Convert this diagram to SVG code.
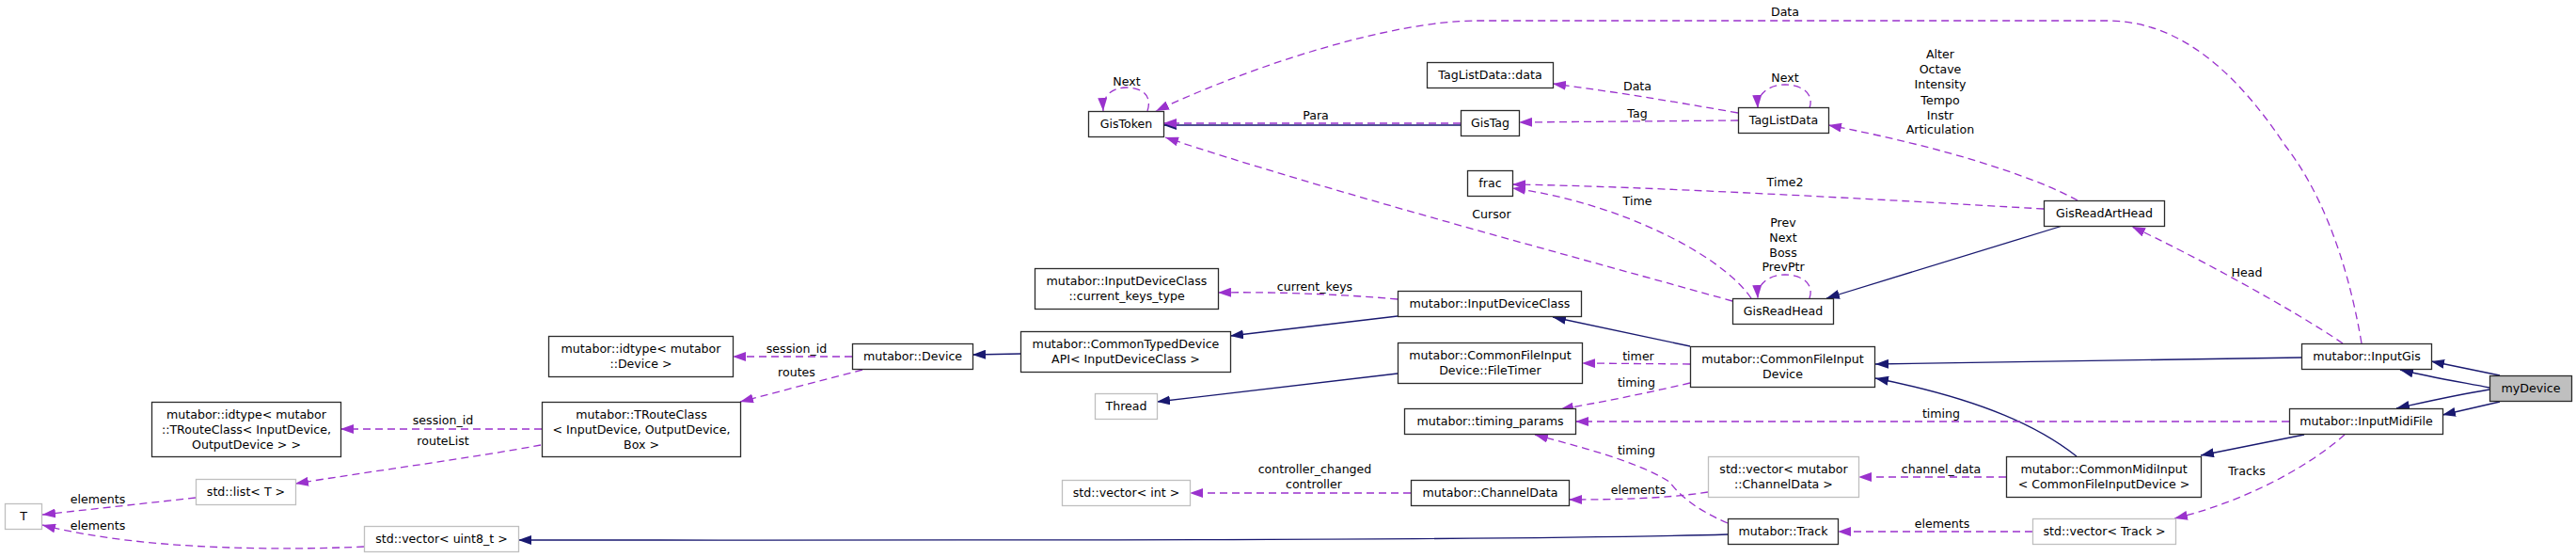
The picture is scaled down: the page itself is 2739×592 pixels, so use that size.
<svg xmlns="http://www.w3.org/2000/svg" width="2739" height="592" viewBox="0 0 2739 592">
<style>
.t{font-family:"DejaVu Sans",sans-serif;font-size:12.6px;text-anchor:middle;fill:#000}
.n{fill:#fff;stroke:#2b2b2b;stroke-width:1.3}
.g{fill:#fff;stroke:#bfbfbf;stroke-width:1.3}
.sel{fill:#bfbfbf;stroke:#2b2b2b;stroke-width:1.3}
.u{fill:none;stroke:#9a32cd;stroke-width:1.3;stroke-dasharray:8,5;marker-end:url(#ap)}
.i{fill:none;stroke:#191970;stroke-width:1.3;marker-end:url(#an)}
</style>
<defs>
<marker id="ap" markerWidth="14" markerHeight="10" refX="14" refY="5" orient="auto" markerUnits="userSpaceOnUse"><path d="M0,0 L14,5 L0,10 z" fill="#9a32cd"/></marker>
<marker id="an" markerWidth="14" markerHeight="10" refX="14" refY="5" orient="auto" markerUnits="userSpaceOnUse"><path d="M0,0 L14,5 L0,10 z" fill="#191970"/></marker>
</defs>
<rect width="2739" height="592" fill="#fff"/>
<g id="edges">
<!-- inheritance -->
<path class="i" d="M1553,133 L1237,133"/>
<path class="i" d="M2193,240 L1942,317"/>
<path class="i" d="M1797,368 L1651,337"/>
<path class="i" d="M1486,336 L1308,357"/>
<path class="i" d="M1085,376 L1034,377"/>
<path class="i" d="M1486,397 L1230,427"/>
<path class="i" d="M1837,568 C1600,575 1000,574 551,574"/>
<path class="i" d="M2447,380 C2300,382 2150,385 1994,387"/>
<path class="i" d="M2208,485 C2170,455 2110,425 1994,402"/>
<path class="i" d="M2450,462 L2340,484"/>
<path class="i" d="M2658,399 L2585,384"/>
<path class="i" d="M2647,412 C2610,405 2580,400 2552,393"/>
<path class="i" d="M2647,414 C2610,420 2580,427 2548,434"/>
<path class="i" d="M2658,427 L2597,441"/>
<!-- usage -->
<path class="u" d="M2511,365 C2495,270 2465,200 2430,155 C2380,80 2320,22 2240,22 L1570,22 C1480,22 1330,70 1229,118"/>
<text class="t" x="1898" y="17">Data</text>
<path class="u" d="M1220,118 C1226,100 1212,93 1198,93 C1184,93 1172,100 1173,118"/>
<text class="t" x="1198" y="91">Next</text>
<path class="u" d="M1553,131 L1237,131"/>
<text class="t" x="1399" y="127">Para</text>
<path class="u" d="M1842,320 C1700,280 1400,200 1239,146"/>
<text class="t" x="1586" y="232">Cursor</text>
<path class="u" d="M1848,120 C1780,108 1720,98 1651,89"/>
<text class="t" x="1741" y="96">Data</text>
<path class="u" d="M1848,128 L1615,130"/>
<text class="t" x="1741" y="125">Tag</text>
<path class="u" d="M1924,115 C1930,97 1912,90 1898,90 C1884,90 1868,97 1869,115"/>
<text class="t" x="1898" y="87">Next</text>
<path class="u" d="M2209,213 C2160,186 2060,155 1944,133"/>
<text class="t" x="2063" y="62">Alter</text>
<text class="t" x="2063" y="78">Octave</text>
<text class="t" x="2063" y="94">Intensity</text>
<text class="t" x="2063" y="111">Tempo</text>
<text class="t" x="2063" y="127">Instr</text>
<text class="t" x="2063" y="142">Articulation</text>
<path class="u" d="M2173,222 C2000,212 1750,198 1608,196"/>
<text class="t" x="1898" y="198">Time2</text>
<path class="u" d="M1862,317 C1830,270 1720,215 1608,200"/>
<text class="t" x="1741" y="218">Time</text>
<path class="u" d="M1924,317 C1930,299 1912,292 1898,292 C1884,292 1868,299 1869,317"/>
<text class="t" x="1896" y="241">Prev</text>
<text class="t" x="1896" y="257">Next</text>
<text class="t" x="1896" y="273">Boss</text>
<text class="t" x="1896" y="288">PrevPtr</text>
<path class="u" d="M2491,365 C2440,330 2330,270 2267,241"/>
<text class="t" x="2389" y="294">Head</text>
<path class="u" d="M1486,318 C1420,312 1340,310 1295,311"/>
<text class="t" x="1398" y="309">current_keys</text>
<path class="u" d="M1797,387 L1682,386"/>
<text class="t" x="1742" y="383">timer</text>
<path class="u" d="M1797,407 C1750,418 1700,428 1659,435"/>
<text class="t" x="1740" y="411">timing</text>
<path class="u" d="M2434,448 L1675,448"/>
<text class="t" x="2064" y="444">timing</text>
<path class="u" d="M1837,556 C1800,540 1785,525 1775,512 C1740,490 1680,475 1632,462"/>
<text class="t" x="1740" y="483">timing</text>
<path class="u" d="M1816,523 C1770,530 1720,531 1668,531"/>
<text class="t" x="1742" y="525">elements</text>
<path class="u" d="M1500,524 L1265,524"/>
<text class="t" x="1398" y="503">controller_changed</text>
<text class="t" x="1397" y="519">controller</text>
<path class="u" d="M2133,507 L1976,507"/>
<text class="t" x="2064" y="503">channel_data</text>
<path class="u" d="M2161,565 L1954,565"/>
<text class="t" x="2065" y="561">elements</text>
<path class="u" d="M2493,462 C2450,500 2380,535 2312,551"/>
<text class="t" x="2389" y="505">Tracks</text>
<path class="u" d="M576,456 L362,456"/>
<text class="t" x="471" y="451">session_id</text>
<path class="u" d="M575,473 C500,487 400,500 314,514"/>
<text class="t" x="471" y="473">routeList</text>
<path class="u" d="M208,529 L45,547"/>
<text class="t" x="104" y="535">elements</text>
<path class="u" d="M387,581 C300,585 150,585 45,558"/>
<text class="t" x="104" y="563">elements</text>
<path class="u" d="M906,379 L779,379"/>
<text class="t" x="847" y="375">session_id</text>
<path class="u" d="M917,393 L787,427"/>
<text class="t" x="847" y="400">routes</text>
</g>
<g id="T"><rect class="g" x="5.5" y="535.5" width="39" height="27"/><text class="t" x="25" y="553.4">T</text></g>
<g id="stdlist"><rect class="g" x="208.5" y="509.5" width="106" height="27"/><text class="t" x="261.5" y="527.4">std::list&lt; T &gt;</text></g>
<g id="vec_uint8"><rect class="g" x="387.5" y="559.5" width="164" height="27"/><text class="t" x="469.5" y="577.4">std::vector&lt; uint8_t &gt;</text></g>
<g id="idtype_troute"><rect class="n" x="161.5" y="427.5" width="201" height="58"/><text class="t" x="262" y="444.9">mutabor::idtype&lt; mutabor</text><text class="t" x="262" y="460.9">::TRouteClass&lt; InputDevice,</text><text class="t" x="262" y="476.9">OutputDevice &gt; &gt;</text></g>
<g id="troute"><rect class="n" x="576.5" y="427.5" width="211" height="58"/><text class="t" x="682" y="444.9">mutabor::TRouteClass</text><text class="t" x="682" y="460.9">&lt; InputDevice, OutputDevice,</text><text class="t" x="682" y="476.9">Box &gt;</text></g>
<g id="idtype_device"><rect class="n" x="583.5" y="357.5" width="196" height="43"/><text class="t" x="681.5" y="375.4">mutabor::idtype&lt; mutabor</text><text class="t" x="681.5" y="391.4">::Device &gt;</text></g>
<g id="device"><rect class="n" x="906.5" y="365.5" width="128" height="27"/><text class="t" x="970.5" y="383.4">mutabor::Device</text></g>
<g id="ctdapi"><rect class="n" x="1085.5" y="352.5" width="223" height="43"/><text class="t" x="1197" y="370.4">mutabor::CommonTypedDevice</text><text class="t" x="1197" y="386.4">API&lt; InputDeviceClass &gt;</text></g>
<g id="ckt"><rect class="n" x="1100.5" y="285.5" width="195" height="43"/><text class="t" x="1198" y="303.4">mutabor::InputDeviceClass</text><text class="t" x="1198" y="319.4">::current_keys_type</text></g>
<g id="thread"><rect class="g" x="1164.5" y="418.5" width="66" height="27"/><text class="t" x="1197.5" y="436.4">Thread</text></g>
<g id="vec_int"><rect class="g" x="1129.5" y="510.5" width="136" height="27"/><text class="t" x="1197.5" y="528.4">std::vector&lt; int &gt;</text></g>
<g id="gistoken"><rect class="n" x="1157.5" y="118.5" width="80" height="27"/><text class="t" x="1197.5" y="136.4">GisToken</text></g>
<g id="tld_data"><rect class="n" x="1517.5" y="66.5" width="134" height="27"/><text class="t" x="1584.5" y="84.4">TagListData::data</text></g>
<g id="gistag"><rect class="n" x="1553.5" y="117.5" width="62" height="27"/><text class="t" x="1584.5" y="135.4">GisTag</text></g>
<g id="frac"><rect class="n" x="1560.5" y="181.5" width="48" height="27"/><text class="t" x="1584.5" y="199.4">frac</text></g>
<g id="idc"><rect class="n" x="1486.5" y="309.5" width="195" height="27"/><text class="t" x="1584" y="327.4">mutabor::InputDeviceClass</text></g>
<g id="filetimer"><rect class="n" x="1486.5" y="364.5" width="196" height="43"/><text class="t" x="1584.5" y="382.4">mutabor::CommonFileInput</text><text class="t" x="1584.5" y="398.4">Device::FileTimer</text></g>
<g id="timing"><rect class="n" x="1493.5" y="434.5" width="182" height="27"/><text class="t" x="1584.5" y="452.4">mutabor::timing_params</text></g>
<g id="channeldata"><rect class="n" x="1500.5" y="510.5" width="168" height="27"/><text class="t" x="1584.5" y="528.4">mutabor::ChannelData</text></g>
<g id="taglistdata"><rect class="n" x="1848.5" y="114.5" width="96" height="27"/><text class="t" x="1896.5" y="132.4">TagListData</text></g>
<g id="gisreadhead"><rect class="n" x="1842.5" y="317.5" width="107" height="27"/><text class="t" x="1896" y="335.4">GisReadHead</text></g>
<g id="cfid"><rect class="n" x="1797.5" y="368.5" width="196" height="43"/><text class="t" x="1895.5" y="386.4">mutabor::CommonFileInput</text><text class="t" x="1895.5" y="402.4">Device</text></g>
<g id="vec_chdata"><rect class="g" x="1816.5" y="485.5" width="160" height="43"/><text class="t" x="1896.5" y="503.4">std::vector&lt; mutabor</text><text class="t" x="1896.5" y="519.4">::ChannelData &gt;</text></g>
<g id="track"><rect class="n" x="1837.5" y="551.5" width="117" height="27"/><text class="t" x="1896" y="569.4">mutabor::Track</text></g>
<g id="gisreadarthead"><rect class="n" x="2173.5" y="213.5" width="128" height="27"/><text class="t" x="2237.5" y="231.4">GisReadArtHead</text></g>
<g id="cmi"><rect class="n" x="2133.5" y="485.5" width="207" height="43"/><text class="t" x="2237" y="503.4">mutabor::CommonMidiInput</text><text class="t" x="2237" y="519.4">&lt; CommonFileInputDevice &gt;</text></g>
<g id="vec_track"><rect class="g" x="2161.5" y="551.5" width="152" height="27"/><text class="t" x="2237.5" y="569.4">std::vector&lt; Track &gt;</text></g>
<g id="inputgis"><rect class="n" x="2447.5" y="365.5" width="138" height="27"/><text class="t" x="2516.5" y="383.4">mutabor::InputGis</text></g>
<g id="inputmidifile"><rect class="n" x="2434.5" y="434.5" width="163" height="27"/><text class="t" x="2516" y="452.4">mutabor::InputMidiFile</text></g>
<g id="mydevice"><rect class="sel" x="2647.5" y="399.5" width="87" height="27"/><text class="t" x="2691" y="417.4">myDevice</text></g>
</svg>
